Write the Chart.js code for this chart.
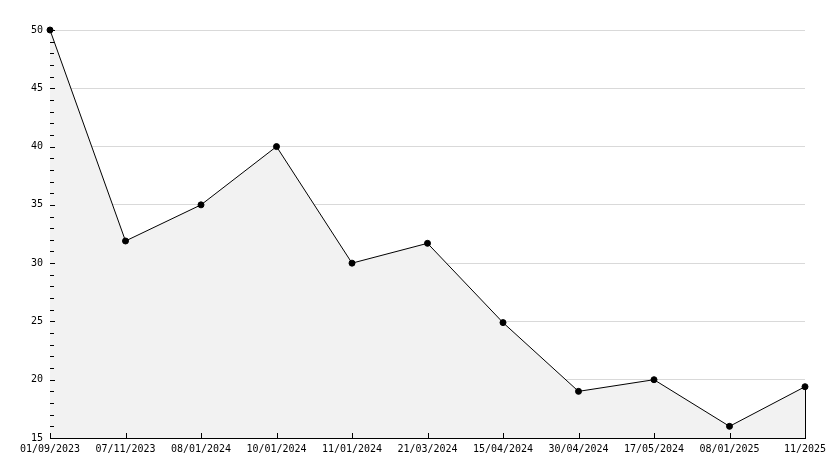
<!DOCTYPE html>
<html>
<head>
    <meta charset="utf-8">
    <title>Chart</title>
    <script src="https://cdn.jsdelivr.net/npm/chart.js"></script>
    <style>
        html, body { margin: 0; padding: 0; background: #fff; }
        #wrap { width: 834px; height: 468px; }
    </style>
</head>
<body>
    <div id="wrap"><canvas id="chart"></canvas></div>
    <script>
        const dates = ['01/09/2023', '07/11/2023', '08/01/2024', '10/01/2024', '11/01/2024',
                       '21/03/2024', '15/04/2024', '30/04/2024', '17/05/2024', '08/01/2025', '11/2025'];
        const values = [50, 31.9, 35, 40, 30, 31.7, 24.9, 19, 20, 16, 19.4];
        const yMin = 15, yMax = 50;

        // inward tick marks + right edge of the filled area
        const innerTicks = {
            id: 'innerTicks',
            afterDatasetsDraw(chart) {
                const ctx = chart.ctx;
                const x = chart.scales.x, y = chart.scales.y;
                const area = chart.chartArea;
                ctx.save();
                ctx.strokeStyle = '#000';
                ctx.lineWidth = 1;
                ctx.beginPath();
                for (let v = yMin; v <= yMax; v++) {
                    const py = Math.round(y.getPixelForValue(v)) + 0.5;
                    const len = v % 5 === 0 ? 5 : 4;
                    ctx.moveTo(area.left, py);
                    ctx.lineTo(area.left + len, py);
                }
                dates.forEach((d, i) => {
                    const px = Math.round(x.getPixelForValue(i)) + 0.5;
                    ctx.moveTo(px, area.bottom);
                    ctx.lineTo(px, area.bottom - 5);
                });
                const last = values.length - 1;
                const lx = Math.round(x.getPixelForValue(last)) + 0.5;
                ctx.moveTo(lx, y.getPixelForValue(values[last]));
                ctx.lineTo(lx, area.bottom);
                ctx.stroke();
                ctx.restore();
            }
        };

        new Chart(document.getElementById('chart'), {
            type: 'line',
            data: {
                labels: dates,
                datasets: [{
                    data: values,
                    borderColor: '#000',
                    borderWidth: 1,
                    backgroundColor: '#f2f2f2',
                    fill: 'start',
                    tension: 0,
                    clip: false,
                    pointRadius: 3,
                    pointBackgroundColor: '#000',
                    pointBorderColor: '#000',
                    pointBorderWidth: 1
                }]
            },
            options: {
                responsive: true,
                maintainAspectRatio: false,
                animation: false,
                layout: { padding: { top: 30, right: 29, left: 0, bottom: 0 } },
                plugins: {
                    legend: { display: false },
                    tooltip: { enabled: false }
                },
                scales: {
                    x: {
                        offset: false,
                        grid: { display: false, drawTicks: false },
                        border: { color: '#000', width: 1 },
                        ticks: {
                            color: '#000',
                            font: { family: 'DejaVu Sans Mono', size: 10 },
                            padding: 5,
                            maxRotation: 0,
                            autoSkip: false
                        },
                        afterFit(scale) { scale.height = 30; }
                    },
                    y: {
                        min: yMin,
                        max: yMax,
                        grid: {
                            color: ctx => ctx.tick && ctx.tick.value === yMin ? 'rgba(0,0,0,0)' : '#d9d9d9',
                            drawTicks: false
                        },
                        border: { color: '#000', width: 1 },
                        ticks: {
                            stepSize: 5,
                            color: '#000',
                            font: { family: 'DejaVu Sans Mono', size: 10 },
                            padding: 7
                        },
                        afterFit(scale) { scale.width = 50; }
                    }
                }
            },
            plugins: [innerTicks]
        });
    </script>
</body>
</html>
